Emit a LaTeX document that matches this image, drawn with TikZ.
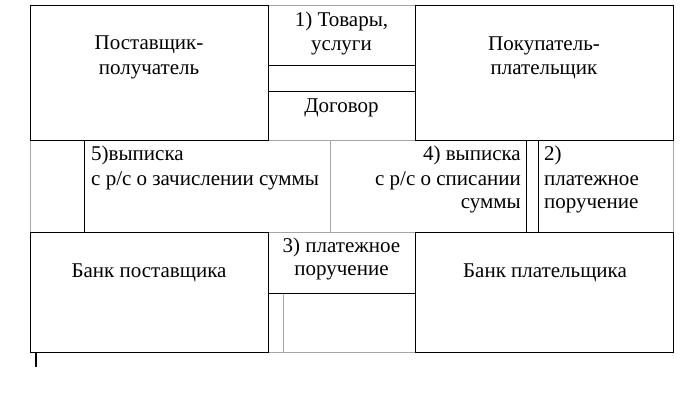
\documentclass[tikz,border=0pt]{standalone}
\usepackage{fontspec}
\setmainfont{Liberation Serif}
\newfontfamily\tablefont{Liberation Serif}
\tikzset{
    boxline/.style={draw=black, line width=1pt},
    cellline/.style={draw=black!35, line width=1pt},
    txt/.style={anchor=base, inner sep=0pt, font=\tablefont\fontsize{21}{24.5}\selectfont},
}
\begin{document}
\begin{tikzpicture}[x=1pt, y=-1pt]
    \useasboundingbox (0,0) rectangle (682,402);

    % table grid
    \draw[cellline] (268,5)--(415,5);
    \draw[cellline] (268,140)--(415,140);
    \draw[cellline] (30,140)--(30,232);
    \draw[cellline] (330,140)--(330,232);
    \draw[cellline] (673,140)--(673,232);
    \draw[cellline] (268,232)--(415,232);
    \draw[cellline] (283,293)--(283,352);
    \draw[cellline] (268,352)--(415,352);

    % boxes and black rules
    \draw[boxline] (30,5) rectangle (268,140);
    \draw[boxline] (415,5) rectangle (673,140);
    \draw[boxline] (30,232) rectangle (268,352);
    \draw[boxline] (415,232) rectangle (673,352);
    \draw[boxline] (268,65)--(415,65);
    \draw[boxline] (268,91)--(415,91);
    \draw[boxline] (268,293)--(415,293);
    \draw[boxline] (84,140)--(84,232);
    \draw[boxline] (526,140)--(526,232);
    \draw[boxline] (538,140)--(538,232);
    \draw[line width=2pt] (36,353)--(36,367);

    \node[txt] (sup1) at (149,49) {Поставщик-};
    \node[txt] (sup2) at (149,74) {получатель};

    \node[txt] (goods1) at (341.5,26) {1) Товары,};
    \node[txt] (goods2) at (341.5,50) {услуги};
    \node[txt] (contract) at (341.5,112) {Договор};

    \node[txt] (buy1) at (544,50) {Покупатель-};
    \node[txt] (buy2) at (544,74) {плательщик};

    \node[txt, anchor=base west] (stm5a) at (91,160) {5)выписка};
    \node[txt, anchor=base west] (stm5b) at (91,185) {с р/с о зачислении суммы};

    \node[txt, anchor=base east] (stm4a) at (521,160) {4) выписка};
    \node[txt, anchor=base east] (stm4b) at (521,185) {с р/с о списании};
    \node[txt, anchor=base east] (stm4c) at (521,208) {суммы};

    \node[txt, anchor=base west] (ord2a) at (544,160) {2)};
    \node[txt, anchor=base west] (ord2b) at (544,185) {платежное};
    \node[txt, anchor=base west] (ord2c) at (544,208) {поручение};

    \node[txt] (ord3a) at (341.5,252) {3) платежное};
    \node[txt] (ord3b) at (341.5,275) {поручение};

    \node[txt] (bank1) at (149,277) {Банк поставщика};
    \node[txt] (bank2) at (545,277) {Банк плательщика};

\end{tikzpicture}
\end{document}
